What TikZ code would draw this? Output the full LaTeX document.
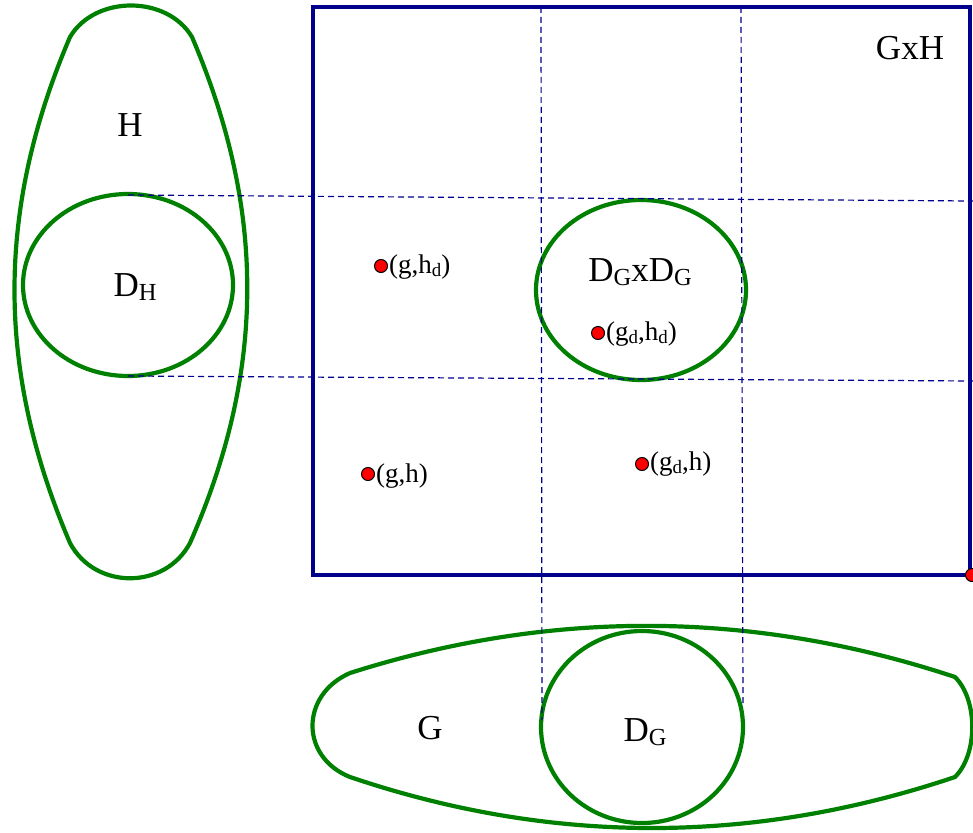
\documentclass[tikz,border=0pt]{standalone}
\usepackage{fontspec}
\usepackage{graphicx}
\setmainfont{Liberation Serif}
\newcommand\lsub[1]{\raisebox{-0.12em}{\scalebox{0.7}{#1}}}
\definecolor{setgreen}{RGB}{0,128,0}
\definecolor{navyline}{RGB}{0,0,140}
\tikzset{
  setline/.style={draw=setgreen,line width=4.2pt},
  guide/.style={draw=navyline,line width=1.2pt,dash pattern=on 6pt off 4pt},
  bigtext/.style={inner sep=0pt,font=\fontsize{35}{40}\selectfont},
  ptlabel/.style={inner sep=0pt,anchor=west,font=\fontsize{27}{31}\selectfont},
  pt/.style={circle,fill=red,draw=black,line width=1pt,inner sep=0pt,minimum size=13pt}
}
\begin{document}
\begin{tikzpicture}[x=1pt,y=-1pt]
\useasboundingbox (0,0) rectangle (973,832);
% H set
\draw[setline] (70,37) .. controls (95,-5) and (167,-5) .. (192,37)
  .. controls (266,210) and (266,370) .. (190,543)
  .. controls (165,590) and (95,590) .. (70,543)
  .. controls (-4,370) and (-4,210) .. (70,37) -- cycle;
% G set
\draw[setline] (350,673) .. controls (551,609) and (753,610) .. (955,677)
  .. controls (978,700) and (978,754) .. (955,777)
  .. controls (753,845) and (551,845) .. (350,777)
  .. controls (300,757) and (300,695) .. (350,673) -- cycle;
% D_H, D_G, D_GxD_G
\draw[setline] (128,285) ellipse [x radius=105, y radius=91];
\draw[setline] (642,727) ellipse [x radius=101, y radius=96];
\draw[setline] (641,290) ellipse [x radius=105, y radius=90];
% guides
\coordinate (h1a) at (128,195); \coordinate (h1b) at (973,201);
\coordinate (h2a) at (128,376); \coordinate (h2b) at (973,381);
\coordinate (v1a) at (541,7);   \coordinate (v1b) at (542,720);
\coordinate (v2a) at (741,7);   \coordinate (v2b) at (743,703);
\draw[guide] (h1a) -- (h1b);
\draw[guide] (h2a) -- (h2b);
\draw[guide] (v1a) -- (v1b);
\draw[guide] (v2a) -- (v2b);
% GxH rectangle
\draw[draw=navyline,line width=3.8pt] (313,7) rectangle (970,575);
% labels
\node[bigtext] (lH) at (130,125) {H};
\node[bigtext] (lDH) at (135,287) {D\lsub{H}};
\node[bigtext] (lGH) at (910,48) {GxH};
\node[bigtext] (lDD) at (640,272) {D\lsub{G}xD\lsub{G}};
\node[bigtext] (lG) at (430,728) {G};
\node[bigtext] (lDG) at (645,732) {D\lsub{G}};
% points
\node[pt] (p1) at (381,266) {};
\node[ptlabel] (t1) at (389,267) {(g,h\lsub{d})};
\node[pt] (p2) at (598,333) {};
\node[ptlabel] (t2) at (606,334) {(g\lsub{d},h\lsub{d})};
\node[pt] (p3) at (368,474) {};
\node[ptlabel] (t3) at (376,476) {(g,h)};
\node[pt] (p4) at (642,464) {};
\node[ptlabel] (t4) at (650,464) {(g\lsub{d},h)};
\node[pt] (p5) at (972,575) {};
\end{tikzpicture}
\end{document}
